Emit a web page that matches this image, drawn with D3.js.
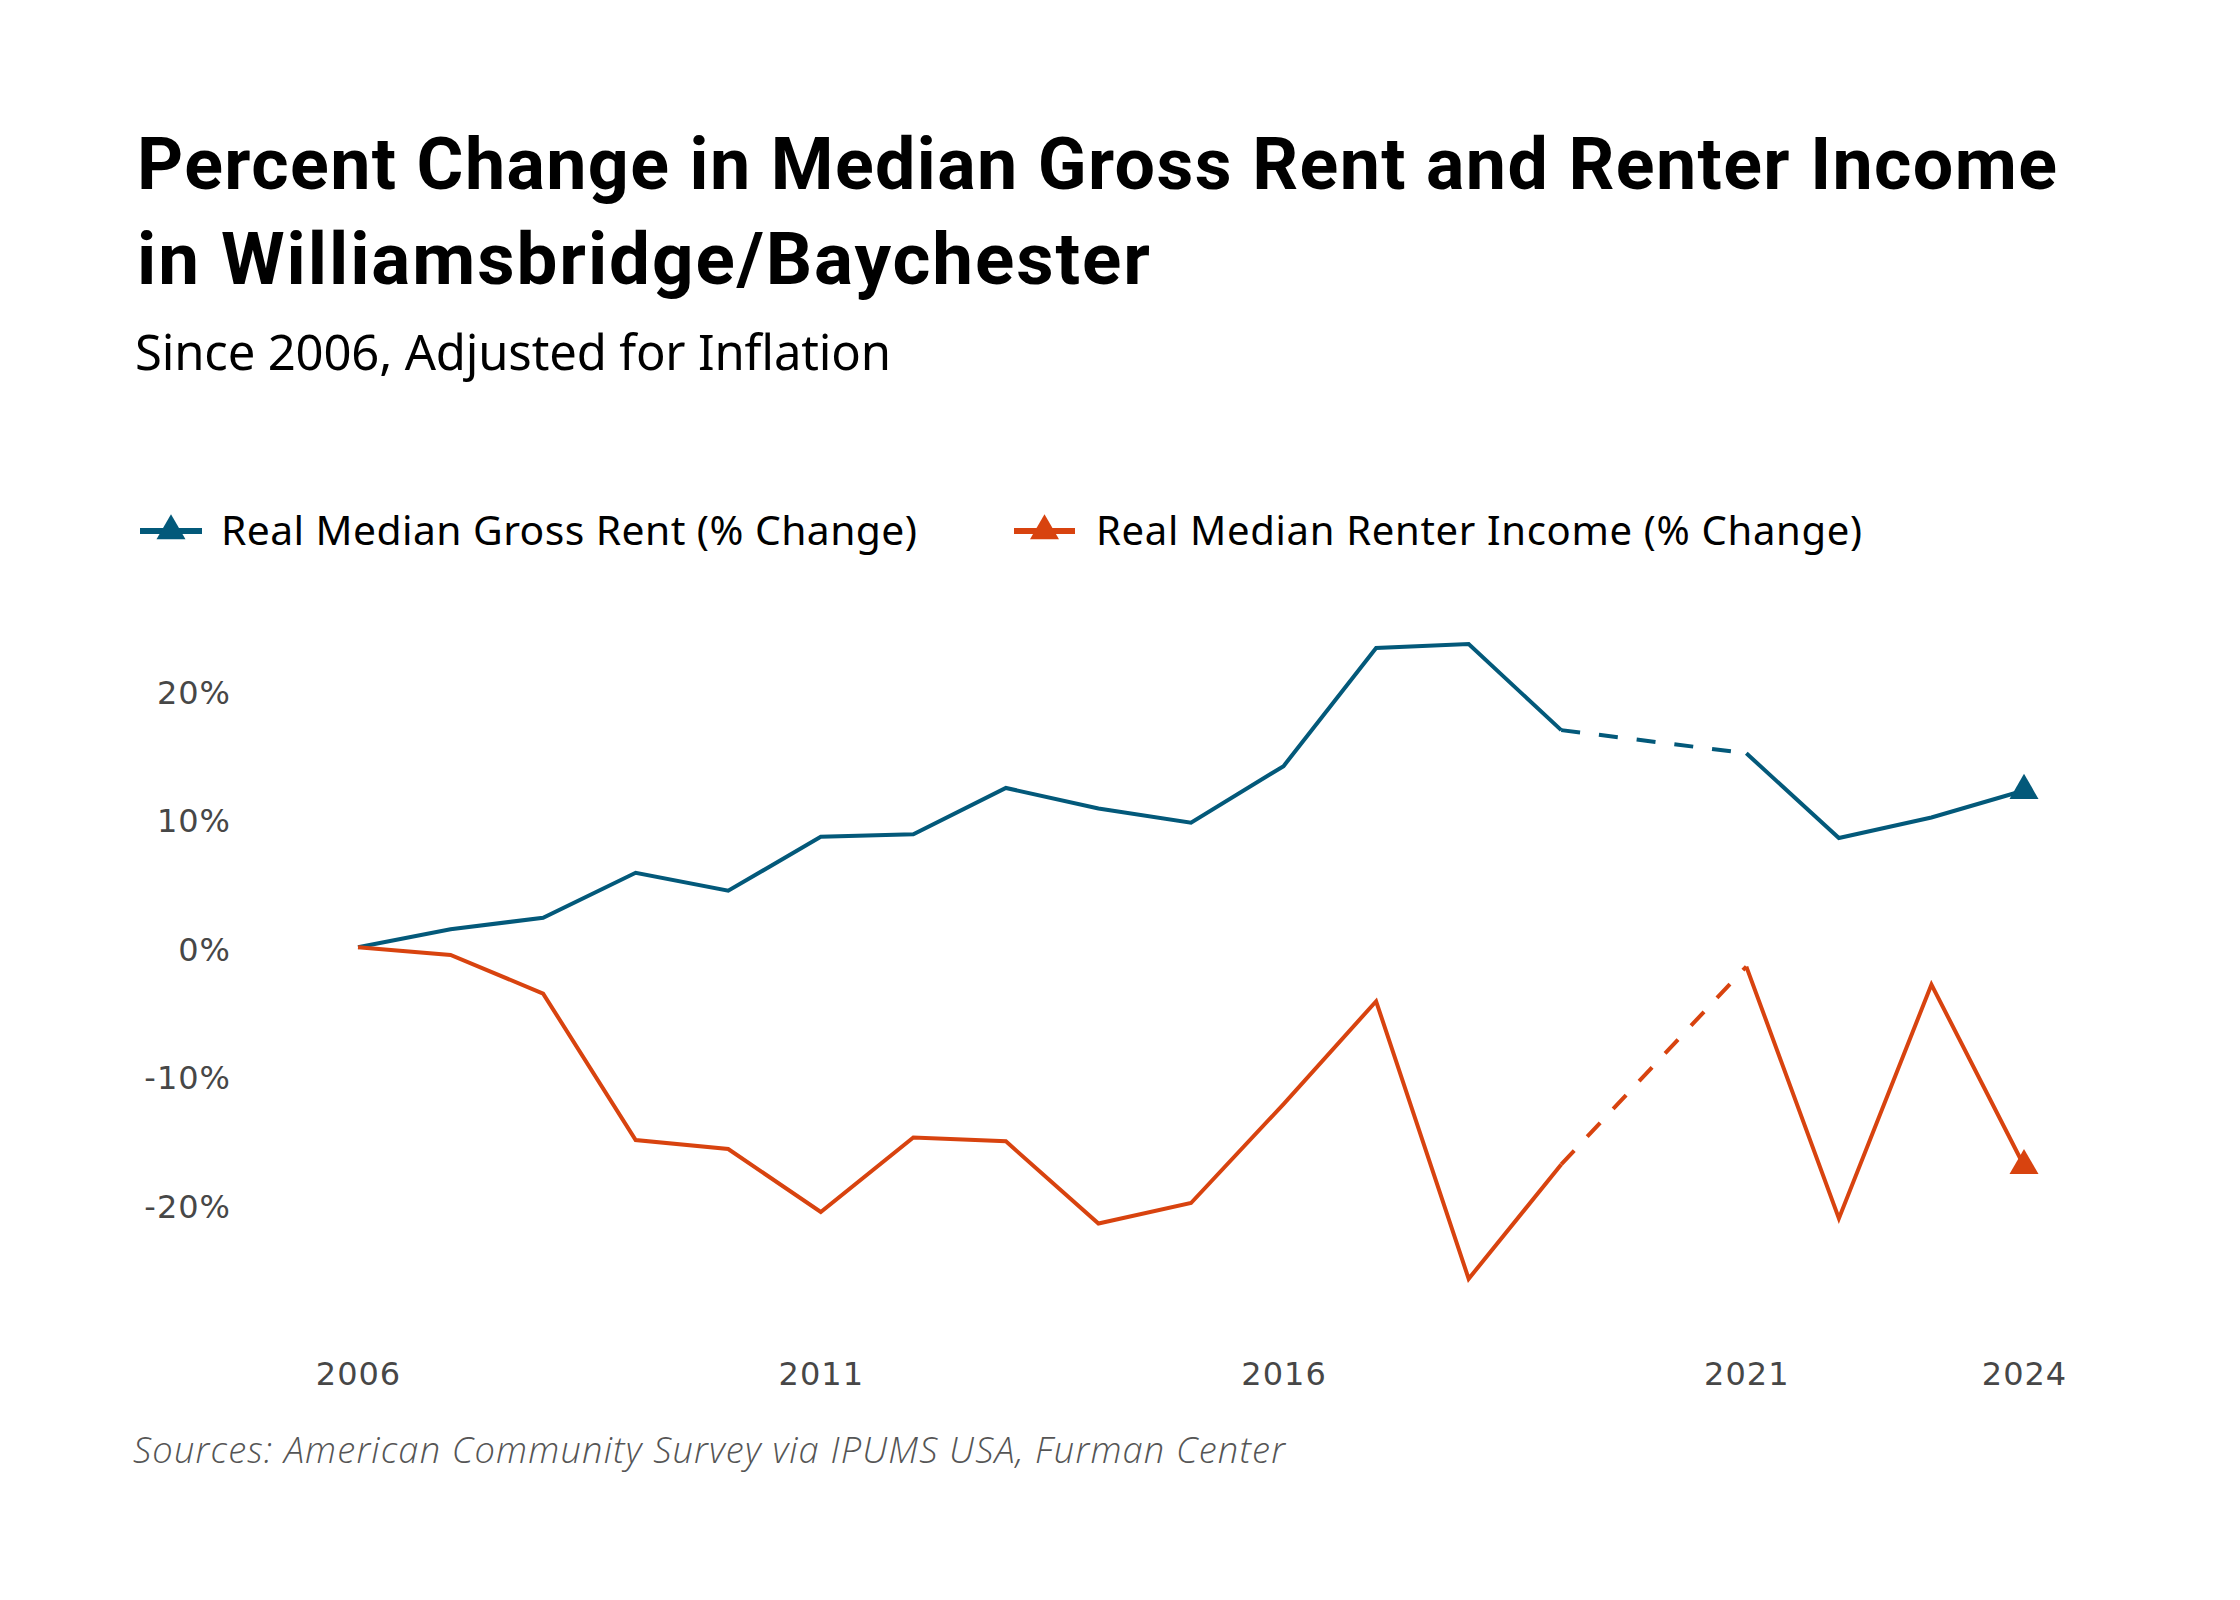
<!DOCTYPE html>
<html>
<head>
<meta charset="utf-8">
<script src="https://cdn.jsdelivr.net/npm/d3@7"></script>
<style>
  html, body { margin: 0; padding: 0; background: #ffffff; }
  svg { display: block; }
</style>
</head>
<body>
<svg id="chart" width="2240" height="1600"></svg>
<script>
// ---------------- DATA ----------------
const years = [2006, 2007, 2008, 2009, 2010, 2011, 2012, 2013, 2014, 2015, 2016, 2017, 2018, 2019, 2021, 2022, 2023, 2024];
const rentChange = [0, 1.4, 2.3, 5.8, 4.4, 8.6, 8.8, 12.4, 10.8, 9.7, 14.1, 23.3, 23.6, 16.9, 15.1, 8.5, 10.1, 12.2];
const incomeChange = [0, -0.6, -3.6, -15.0, -15.7, -20.6, -14.8, -15.1, -21.5, -19.9, -12.2, -4.2, -25.8, -16.9, -1.5, -21.1, -2.9, -17.0];
const seriesNames = ["Real Median Gross Rent (% Change)", "Real Median Renter Income (% Change)"];
const xTickYears = [2006, 2011, 2016, 2021, 2024];
const yTickValues = [-20, -10, 0, 10, 20];
const titleLines = ["Percent Change in Median Gross Rent and Renter Income", "in Williamsbridge/Baychester"];
const subtitleText = "Since 2006, Adjusted for Inflation";
const sourceText = "Sources: American Community Survey via IPUMS USA, Furman Center";

// ---------------- STYLE ----------------
const colors = ["#03597a", "#d8430f"];
const svg = d3.select("#chart");

function fit(sel, target) {
  const node = sel.node();
  const w = node.getComputedTextLength();
  const s = target / w;
  if (Math.abs(s - 1) > 0.04) {
    const fs = parseFloat(sel.attr("font-size"));
    sel.attr("font-size", fs * Math.pow(s, 0.5));
  }
  sel.attr("textLength", target).attr("lengthAdjust", "spacing");
}

// Title
const titleFont = "Roboto, 'Libre Franklin', Arial, sans-serif";
const t1 = svg.append("text").attr("x", 137).attr("y", 189)
  .attr("font-family", titleFont).attr("font-weight", 700).attr("font-size", 69)
  .attr("fill", "#000").text(titleLines[0]);
fit(t1, 1920);
const t2 = svg.append("text").attr("x", 137).attr("y", 284)
  .attr("font-family", titleFont).attr("font-weight", 700).attr("font-size", 69)
  .attr("fill", "#000").text(titleLines[1]);
fit(t2, 1013);

// Subtitle
const textFont = "'Noto Sans', 'Open Sans', sans-serif";
const st = svg.append("text").attr("x", 135).attr("y", 370)
  .attr("font-family", textFont).attr("font-size", 49).attr("fill", "#000").text(subtitleText);
fit(st, 756);

// ---------------- SCALES ----------------
const x = d3.scaleLinear().domain([2006, 2024]).range([358, 2024]);
const y = d3.scaleLinear().domain([-30, 30]).range([1332.8, 561.8]);

// Axes
const tickFont = "'DejaVu Sans', sans-serif";
const yAxis = svg.append("g").attr("transform", "translate(231,0)")
  .call(d3.axisLeft(y).tickValues(yTickValues).tickSize(0).tickPadding(0)
    .tickFormat(d => d + "%"));
yAxis.select(".domain").remove();
yAxis.selectAll("text")
  .attr("font-family", tickFont).attr("font-size", 32).attr("fill", "#474747")
  .attr("letter-spacing", 1).attr("dy", "0.4em");

const xAxis = svg.append("g").attr("transform", "translate(0,1385)")
  .call(d3.axisBottom(x).tickValues(xTickYears).tickSize(0).tickPadding(0)
    .tickFormat(d3.format("d")));
xAxis.select(".domain").remove();
xAxis.selectAll("text")
  .attr("font-family", tickFont).attr("font-size", 32).attr("fill", "#474747")
  .attr("letter-spacing", 1).attr("dy", 0).attr("dx", 0);

// ---------------- LINES ----------------
const series = [rentChange, incomeChange];
const line = d3.line().x(d => x(d[0])).y(d => y(d[1]));

series.forEach((vals, si) => {
  const pts = years.map((yr, i) => [yr, vals[i]]);
  // split into contiguous runs; gaps drawn dashed
  let runs = [[pts[0]]];
  const gaps = [];
  for (let i = 1; i < pts.length; i++) {
    if (pts[i][0] - pts[i - 1][0] > 1) {
      gaps.push([pts[i - 1], pts[i]]);
      runs.push([pts[i]]);
    } else {
      runs[runs.length - 1].push(pts[i]);
    }
  }
  runs.forEach(r => {
    svg.append("path").attr("d", line(r)).attr("fill", "none")
      .attr("stroke", colors[si]).attr("stroke-width", 4).attr("stroke-linejoin", "miter");
  });
  gaps.forEach(g => {
    svg.append("path").attr("d", line(g)).attr("fill", "none")
      .attr("stroke", colors[si]).attr("stroke-width", 4).attr("stroke-dasharray", "19,19");
  });
  const last = pts[pts.length - 1];
  svg.append("path")
    .attr("d", d3.symbol().type(d3.symbolTriangle).size(364)())
    .attr("transform", `translate(${x(last[0])},${y(last[1])})`)
    .attr("fill", colors[si]);
});

// ---------------- LEGEND ----------------
const legendItems = [
  { x0: 140, x1: 202, tx: 221, w: 696 },
  { x0: 1014, x1: 1075, tx: 1096, w: 766 }
];
legendItems.forEach((it, i) => {
  const g = svg.append("g");
  g.append("line").attr("x1", it.x0).attr("x2", it.x1).attr("y1", 531).attr("y2", 531)
    .attr("stroke", colors[i]).attr("stroke-width", 6);
  g.append("path")
    .attr("d", d3.symbol().type(d3.symbolTriangle).size(364)())
    .attr("transform", `translate(${(it.x0 + it.x1) / 2},531)`)
    .attr("fill", colors[i]);
  const lt = g.append("text").attr("x", it.tx).attr("y", 545)
    .attr("font-family", textFont).attr("font-size", 40).attr("fill", "#000")
    .text(seriesNames[i]);
  fit(lt, it.w);
});

// ---------------- SOURCE ----------------
const src = svg.append("text").attr("x", 133).attr("y", 1463)
  .attr("font-family", "'Open Sans', 'Noto Sans', sans-serif").attr("font-style", "italic")
  .attr("font-weight", 300).attr("font-size", 34).attr("fill", "#555")
  .text(sourceText);
fit(src, 1152);
</script>
</body>
</html>
